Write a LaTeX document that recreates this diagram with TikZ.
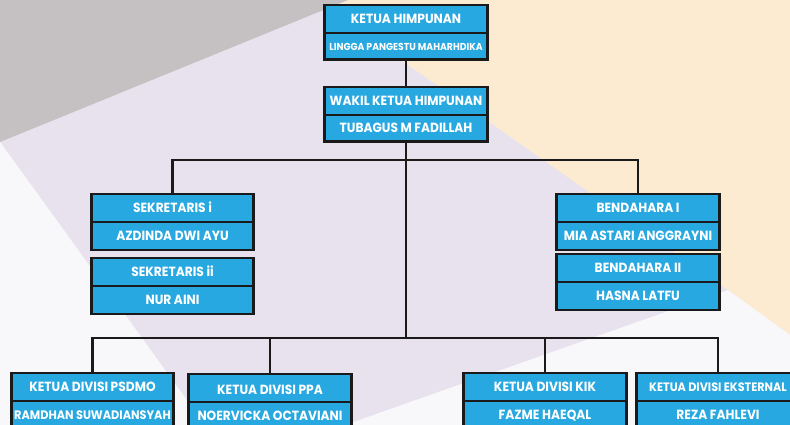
\documentclass[tikz,border=0pt]{standalone}
\usepackage{fontspec}
\setmainfont{Poppins}[FakeStretch=0.92]
\usetikzlibrary{shapes,positioning}

\definecolor{boxblue}{HTML}{27A8E0}
\definecolor{linec}{HTML}{1A1A1A}
\definecolor{bggray}{HTML}{C5C0C1}
\definecolor{bglav}{HTML}{E8E2EE}
\definecolor{bgpeach}{HTML}{FCEBD0}
\definecolor{bgwhite}{HTML}{F8F8FA}

\tikzset{
	unit/.style={rectangle split, rectangle split parts=2, rectangle split draw splits=true,
		draw=linec, line width=1.3pt, fill=boxblue, text=white,
		font=\bfseries\fontsize{13.3}{14}\selectfont,
		minimum width=161pt, inner xsep=0pt, inner ysep=0pt, anchor=north},
	frame/.style={draw=linec, line width=2.8pt},
	wire/.style={draw=linec, line width=2.6pt}
}
% one row of a box, 26 high
\newcommand{\hrow}{\rule[-8.5pt]{0pt}{26pt}}

\begin{document}
\begin{tikzpicture}[x=1pt,y=-1pt]
	\useasboundingbox (0,0) rectangle (790,425);
	\clip (0,0) rectangle (790,425);
	% background
	\fill[bglav] (0,0) rectangle (790,425);
	\fill[bgpeach] (316,0) -- (790,0) -- (790,335) -- (728,290) -- cycle;
	\fill[bggray] (0,0) -- (348,0) -- (0,142) -- cycle;
	\fill[bgwhite] (345,425) -- (728,290) -- (790,335) -- (790,425) -- cycle;
	\fill[bgwhite] (0,142) -- (205,425) -- (0,425) -- cycle;

	% top
	\node (ketua) at (406,5) [unit] {\hrow KETUA HIMPUNAN\nodepart{two}\rule[-8pt]{0pt}{25pt}\fontsize{10.1}{11}\selectfont LINGGA PANGESTU MAHARHDIKA};
	\node (wakil) at (406,87) [unit] {\hrow WAKIL KETUA HIMPUNAN\nodepart{two}\rule[-8pt]{0pt}{25pt}TUBAGUS M FADILLAH};

	% sekretaris, bendahara
	\node (sek1) at (172.5,194) [unit] {\hrow SEKRETARIS i\nodepart{two}\hrow AZDINDA DWI AYU};
	\node (sek2) at (172.5,258) [unit] {\hrow SEKRETARIS ii\nodepart{two}\hrow NUR AINI};
	\node (ben1) at (638,194) [unit] {\hrow BENDAHARA I\nodepart{two}\hrow MIA ASTARI ANGGRAYNI};
	\node (ben2) at (638,254) [unit] {\hrow BENDAHARA II\nodepart{two}\hrow HASNA LATFU};

	% divisi
	\node (psdmo) at (92.5,373) [unit] {\hrow KETUA DIVISI PSDMO\nodepart{two}\hrow\fontsize{12.3}{13}\selectfont RAMDHAN SUWADIANSYAH};
	\node (ppa) at (270,374) [unit] {\rule[-7pt]{0pt}{26pt}KETUA DIVISI PPA\hspace*{8pt}\nodepart{two}\hrow NOERVICKA OCTAVIANI};
	\node (kik) at (545,373) [unit] {\hrow KETUA DIVISI KIK\nodepart{two}\hrow FAZME HAEQAL};
	\node (eks) at (718,373) [unit] {\hrow\fontsize{12.2}{13}\selectfont KETUA DIVISI EKSTERNAL\hspace*{6pt}\nodepart{two}\hrow REZA FAHLEVI};

	\coordinate (upbus) at (406,160);
	\coordinate (lowbus) at (406,338);

	\draw[wire] (ketua.south) -- (wakil.north);
	\draw[wire] (wakil.south) -- (lowbus);
	\draw[wire] (sek1.north) |- (upbus) -| (ben1.north);
	\draw[wire] (psdmo.north) |- (lowbus) -| (eks.north);
	\draw[wire] (ppa.north) -- (ppa.north |- lowbus);
	\draw[wire] (kik.north) -- (kik.north |- lowbus);

	\foreach \n in {ketua,wakil,sek1,sek2,ben1,ben2,psdmo,ppa,kik,eks}
		\draw[frame] (\n.north west) rectangle (\n.south east);
\end{tikzpicture}
\end{document}
